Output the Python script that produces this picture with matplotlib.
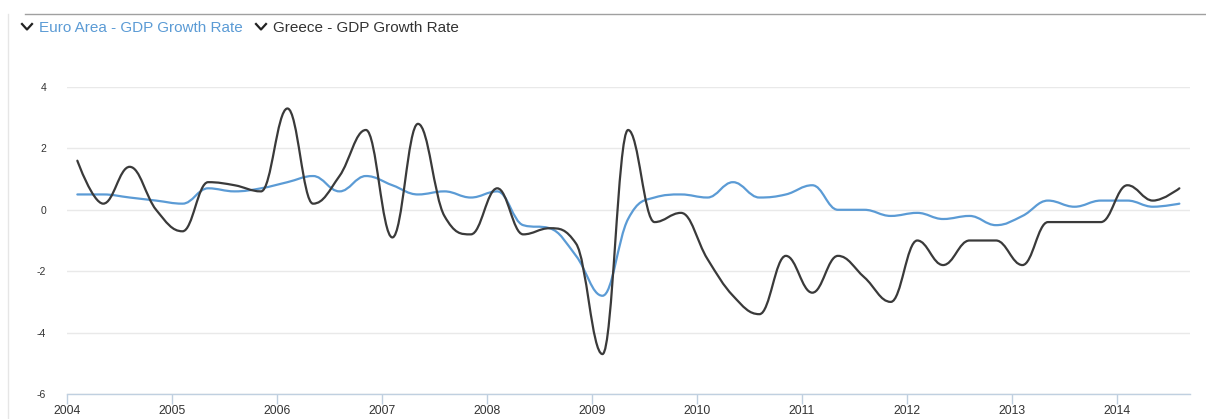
import numpy as np
import pandas as pd
import matplotlib
matplotlib.use("Agg")
import matplotlib.pyplot as plt
import matplotlib.dates as mdates
from matplotlib.path import Path
from matplotlib.patches import PathPatch
from matplotlib.lines import Line2D

plt.rcParams['font.family'] = ['Liberation Sans', 'DejaVu Sans']

# ---- data (quarterly release dates, QoQ GDP growth %) ----
dates = pd.date_range('2004-02-01', periods=43, freq='3MS') + pd.Timedelta(days=5)
euro_area = [0.5, 0.5, 0.4, 0.3, 0.2, 0.7, 0.6, 0.7, 0.9, 1.1,
             0.6, 1.1, 0.8, 0.5, 0.6, 0.4, 0.6, -0.5, -0.6, -1.5,
             -2.8, -0.3, 0.4, 0.5, 0.4, 0.9, 0.4, 0.5, 0.8, 0.0,
             0.0, -0.2, -0.1, -0.3, -0.2, -0.5, -0.2, 0.3, 0.1, 0.3,
             0.3, 0.1, 0.2]
greece = [1.6, 0.2, 1.4, 0.0, -0.7, 0.9, 0.8, 0.6, 3.3, 0.2,
          1.1, 2.6, -0.9, 2.8, -0.2, -0.8, 0.7, -0.8, -0.6, -1.1,
          -4.7, 2.6, -0.4, -0.1, -1.6, -2.8, -3.4, -1.5, -2.7, -1.5,
          -2.2, -3.0, -1.0, -1.8, -1.0, -1.0, -1.8, -0.4, -0.4, -0.4,
          0.8, 0.3, 0.7]
series_names = ['Euro Area - GDP Growth Rate', 'Greece - GDP Growth Rate']
series_colors = ['#5b9bd5', '#3a3a3a']
y_ticks = [-6, -4, -2, 0, 2, 4]


def spline_path(xs, ys, smoothing=1.5, denom=2.5):
    n = len(xs)
    verts = [(xs[0], ys[0])]
    codes = [Path.MOVETO]
    left = [None] * n
    right = [None] * n
    for i in range(n):
        x, y = xs[i], ys[i]
        if 0 < i < n - 1:
            lx, ly = xs[i - 1], ys[i - 1]
            nx, ny = xs[i + 1], ys[i + 1]
            lcx = (smoothing * x + lx) / denom
            lcy = (smoothing * y + ly) / denom
            rcx = (smoothing * x + nx) / denom
            rcy = (smoothing * y + ny) / denom
            if rcx != lcx:
                corr = ((rcy - lcy) * (rcx - x)) / (rcx - lcx) + y - rcy
                lcy += corr
                rcy += corr
            if lcy > ly and lcy > y:
                lcy = max(ly, y); rcy = 2 * y - lcy
            elif lcy < ly and lcy < y:
                lcy = min(ly, y); rcy = 2 * y - lcy
            if rcy > ny and rcy > y:
                rcy = max(ny, y); lcy = 2 * y - rcy
            elif rcy < ny and rcy < y:
                rcy = min(ny, y); lcy = 2 * y - rcy
            left[i] = (lcx, lcy)
            right[i] = (rcx, rcy)
        else:
            left[i] = (x, y)
            right[i] = (x, y)
    for i in range(1, n):
        verts += [right[i - 1], left[i], (xs[i], ys[i])]
        codes += [Path.CURVE4] * 3
    return Path(verts, codes)


W, H = 1206, 419
fig = plt.figure(figsize=(W / 100, H / 100), dpi=100)
fig.patch.set_facecolor('white')

L, R, B, T = 67, 1190, 394, 87
ax = fig.add_axes([L / W, 1 - B / H, (R - L) / W, (B - T) / H])

xnum = mdates.date2num(dates.to_pydatetime())
x0 = mdates.date2num(pd.Timestamp('2004-01-01'))
x1 = x0 + (mdates.date2num(pd.Timestamp('2014-01-01')) - x0) * (R - L) / 1050.0
ax.set_xlim(x0, x1)
ax.set_ylim(-6, 4)

for vals, col in zip([euro_area, greece], series_colors):
    p = spline_path(list(xnum), list(vals))
    ax.add_patch(PathPatch(p, facecolor='none', edgecolor=col, lw=1.6,
                           capstyle='round', joinstyle='round', zorder=3))

ax.set_yticks(y_ticks)
ax.set_yticklabels([str(v) for v in y_ticks])
ax.xaxis.set_major_locator(mdates.YearLocator())
ax.xaxis.set_major_formatter(mdates.DateFormatter('%Y'))

ax.grid(axis='y', color='#e9e9e9', lw=1)
ax.set_axisbelow(True)
for s in ['top', 'right', 'left']:
    ax.spines[s].set_visible(False)
ax.spines['bottom'].set_color('#c0d0e0')
ax.spines['bottom'].set_linewidth(1)
ax.tick_params(axis='x', colors='#c0d0e0', length=7, width=1, direction='out',
               labelcolor='#333333', labelsize=8.8, pad=1)
ax.tick_params(axis='y', length=0, labelcolor='#333333', labelsize=7.5, pad=15)

# top border and left faint line
fig.add_artist(Line2D([25 / W, 1.0], [1 - 14 / H, 1 - 14 / H], color='#a0a0a0', lw=1))
fig.add_artist(Line2D([8 / W, 8 / W], [0, 1 - 14 / H], color='#e6e6e6', lw=1))

# legend with chevrons
legend_x = [39, 273]
text_colors = ['#5b9bd5', '#333333']
for name, lx, tc in zip(series_names, legend_x, text_colors):
    cx = lx - 12
    fig.add_artist(Line2D([(cx - 5) / W, cx / W, (cx + 5) / W],
                          [1 - 24 / H, 1 - 29.5 / H, 1 - 24 / H],
                          color='#222222', lw=1.6))
    fig.text(lx / W, 1 - 27.5 / H, name, color=tc, fontsize=11,
             ha='left', va='center')

fig.savefig('out.png', dpi=100)
